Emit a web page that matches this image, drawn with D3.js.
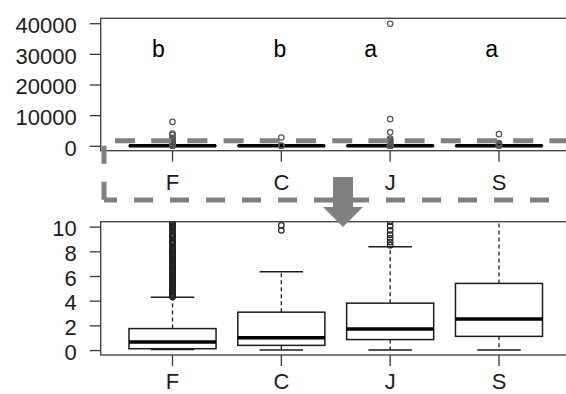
<!DOCTYPE html>
<html><head><meta charset="utf-8">
<script src="https://cdn.jsdelivr.net/npm/d3@7"></script>
<style>
html,body{margin:0;padding:0;background:#fff;}
svg{display:block;font-family:"Liberation Sans",Arial,sans-serif;}
</style></head>
<body>
<svg id="chart" width="566" height="394"></svg>
<script>
// ---- data ----
const categories = ["F", "C", "J", "S"];
const groupLetters = ["b", "b", "a", "a"];
const q1 = [0.11, 0.38, 0.85, 1.11];
const median = [0.65, 1.0, 1.71, 2.52];
const q3 = [1.74, 3.07, 3.8, 5.4];
const whiskerLow = [0.05, 0, 0, 0];
const whiskerHigh = [4.28, 6.34, 8.37, 12.5];
const outliersF = [4.3,4.4,4.5,4.6,4.7,4.8,4.9,5.0,5.1,5.2,5.3,5.4,5.5,5.6,5.7,5.8,5.9,6.0,6.1,6.2,6.3,6.4,6.5,6.6,6.7,6.8,6.9,7.0,7.1,7.2,7.3,7.4,7.5,7.6,7.7,7.8,7.9,8.0,8.1,8.2,8.3,8.4,8.6,8.7,8.8,8.9,9.1,9.2,9.3,9.4,9.6,9.7,9.9,10.0,10.1,10.2,10.3,10.4,10.5,10.6,
  11, 13, 16, 20, 30, 50, 100, 250, 400, 600, 800, 1000, 1200, 1400, 1700, 2000, 2300, 2600, 3600, 4000, 7800];
const outliersC = [9.7, 10.1, 12, 30, 2700];
const outliersJ = [8.5, 8.75, 9.05, 9.35, 9.7, 10.05, 10.4, 11, 14, 20, 50, 150, 400, 800, 1200, 1600, 2000, 2400, 4400, 8700, 39800];
const outliersS = [15, 40, 200, 600, 900, 3800];
const outliers = [outliersF, outliersC, outliersJ, outliersS];
const yTicksTop = [0, 10000, 20000, 30000, 40000];
const yTicksBottom = [0, 2, 4, 6, 8, 10];

// ---- layout ----
const svg = d3.select("#chart");
const ink = "#1c1c1c";
const frameCol = "#3a3a3a";
const gray = "#808080";

const x = d3.scaleBand().domain(categories).range([100.7, 570.8]).paddingInner(0).paddingOuter(0.16);
const cx = c => x(c) + x.bandwidth() / 2;
const boxW = x.bandwidth() * 0.8;
const capW = boxW / 2;

const panels = [
  { id: "top", y: d3.scaleLinear().domain([-1600, 41600]).range([150.7, 18.3]), ticks: yTicksTop, r: 2.7, ostroke: "#555", xpad: 13 },
  { id: "bot", y: d3.scaleLinear().domain([-0.4, 10.4]).range([355, 221.7]), ticks: yTicksBottom, r: 2.8, ostroke: "#222", xpad: 7 }
];

const stats = categories.map((c, i) => ({
  c, q1: q1[i], med: median[i], q3: q3[i], lo: whiskerLow[i], hi: whiskerHigh[i], out: outliers[i]
}));

panels.forEach(p => {
  const y = p.y;
  const [y0, y1] = y.range();
  const [xL, xR] = x.range();
  svg.append("clipPath").attr("id", "clip-" + p.id)
    .append("rect").attr("x", xL).attr("y", y1).attr("width", xR - xL).attr("height", y0 - y1);

  const g = svg.append("g").attr("clip-path", "url(#clip-" + p.id + ")");
  const grp = g.selectAll("g.box").data(stats).join("g").attr("class", "box");

  // whiskers (dashed)
  grp.append("line").attr("x1", d => cx(d.c)).attr("x2", d => cx(d.c))
    .attr("y1", d => y(d.q3)).attr("y2", d => y(d.hi))
    .attr("stroke", ink).attr("stroke-width", 1.3).attr("stroke-dasharray", "4,3");
  grp.append("line").attr("x1", d => cx(d.c)).attr("x2", d => cx(d.c))
    .attr("y1", d => y(d.q1)).attr("y2", d => y(d.lo))
    .attr("stroke", ink).attr("stroke-width", 1.3).attr("stroke-dasharray", "4,3");
  // caps
  ["hi", "lo"].forEach(k => {
    grp.append("line").attr("x1", d => cx(d.c) - capW / 2).attr("x2", d => cx(d.c) + capW / 2)
      .attr("y1", d => y(d[k])).attr("y2", d => y(d[k]))
      .attr("stroke", ink).attr("stroke-width", 1.5);
  });
  // box
  grp.append("rect").attr("x", d => cx(d.c) - boxW / 2).attr("width", boxW)
    .attr("y", d => y(d.q3)).attr("height", d => Math.max(0, y(d.q1) - y(d.q3)))
    .attr("fill", "none").attr("stroke", ink).attr("stroke-width", 1.5);
  // median
  grp.append("line").attr("x1", d => cx(d.c) - boxW / 2).attr("x2", d => cx(d.c) + boxW / 2)
    .attr("y1", d => y(d.med)).attr("y2", d => y(d.med))
    .attr("stroke", "#000").attr("stroke-width", 3.6);
  // outliers
  grp.selectAll("circle").data(d => d.out.map(v => ({ c: d.c, v }))).join("circle")
    .attr("cx", d => cx(d.c)).attr("cy", d => y(d.v)).attr("r", p.r)
    .attr("fill", "none").attr("stroke", p.ostroke).attr("stroke-width", 1.2);

  // frame
  svg.append("rect").attr("x", xL).attr("y", y1).attr("width", xR - xL).attr("height", y0 - y1)
    .attr("fill", "none").attr("stroke", frameCol).attr("stroke-width", 1.3);

  // y axis
  const ya = svg.append("g").attr("transform", `translate(${xL},0)`)
    .call(d3.axisLeft(y).tickValues(p.ticks).tickFormat(d3.format("d")).tickSize(11).tickPadding(13));
  ya.select(".domain").remove();
  ya.selectAll(".tick line").attr("stroke", frameCol).attr("stroke-width", 1.3);
  ya.selectAll(".tick text").attr("fill", ink).attr("font-size", 22).attr("dy", "0.42em")
    .attr("font-family", "'Liberation Sans', Arial, sans-serif");

  // x axis
  const xa = svg.append("g").attr("transform", `translate(0,${y0})`)
    .call(d3.axisBottom(x).tickSize(11).tickPadding(p.xpad).tickSizeOuter(0));
  xa.select(".domain").remove();
  xa.selectAll(".tick line").attr("stroke", frameCol).attr("stroke-width", 1.3);
  xa.selectAll(".tick text").attr("fill", ink).attr("font-size", 22)
    .attr("font-family", "'Liberation Sans', Arial, sans-serif");
});

// group letters in top panel
const letterShift = [-14, -1.5, -19.5, -7.3];
svg.selectAll("text.grp").data(groupLetters).join("text").attr("class", "grp")
  .attr("x", (d, i) => cx(categories[i]) + letterShift[i]).attr("y", 56.5)
  .attr("text-anchor", "middle").attr("font-size", 23).attr("fill", "#000").text(d => d);

// zoom indicator: dashed frame
svg.append("line").attr("x1", 115).attr("x2", 566).attr("y1", 140.8).attr("y2", 140.8)
  .attr("stroke", gray).attr("stroke-width", 5).attr("stroke-dasharray", "20,16.2");
svg.append("line").attr("x1", 104).attr("x2", 104).attr("y1", 145.7).attr("y2", 202.5)
  .attr("stroke", gray).attr("stroke-width", 5).attr("stroke-dasharray", "18,18");
svg.append("line").attr("x1", 104).attr("x2", 566).attr("y1", 200).attr("y2", 200)
  .attr("stroke", gray).attr("stroke-width", 5).attr("stroke-dasharray", "19,17").attr("stroke-dashoffset", 6);

// arrow
svg.append("path")
  .attr("d", "M333,177 H353 V207 H363 L343,227 L323,207 H333 Z")
  .attr("fill", gray);
</script>
</body></html>
